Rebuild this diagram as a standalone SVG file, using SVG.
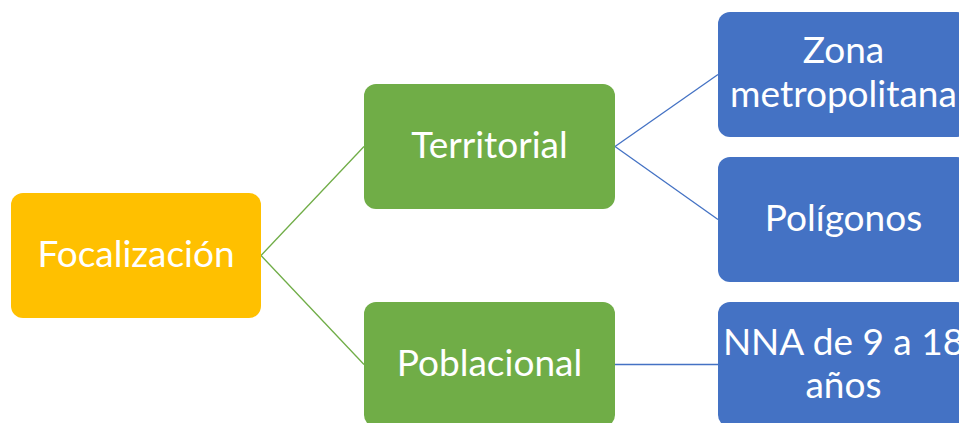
<svg xmlns="http://www.w3.org/2000/svg" width="959" height="423" viewBox="0 0 959 423">
<style>
.lbl{font-family:Lato,"Open Sans","Liberation Sans",sans-serif;font-size:37px;fill:#fff;text-anchor:middle}
.orange{fill:#FFC000}
.green{fill:#70AD47}
.blue{fill:#4472C4}
.cg{stroke:#70AD47;stroke-width:1.3;fill:none}
.cb{stroke:#4472C4;stroke-width:1.3;fill:none}
</style>
<rect width="959" height="423" fill="#fff"/>
<g id="connectors">
<line class="cg" x1="261" y1="255.5" x2="364" y2="146.5"/>
<line class="cg" x1="261" y1="255.5" x2="364" y2="364.5"/>
<line class="cb" x1="615" y1="146.5" x2="718" y2="74.5"/>
<line class="cb" x1="615" y1="146.5" x2="718" y2="219.5"/>
<line class="cb" x1="615" y1="364.5" x2="718" y2="364.5"/>
</g>
<g id="focalizacion">
<rect class="orange" x="11" y="193" width="250" height="125" rx="12"/>
<text class="lbl" x="136" y="267">Focalización</text>
</g>
<g id="territorial">
<rect class="green" x="364" y="84" width="251" height="125" rx="12"/>
<text class="lbl" x="489.5" y="158">Territorial</text>
</g>
<g id="poblacional">
<rect class="green" x="364" y="302" width="251" height="125" rx="12"/>
<text class="lbl" x="489.5" y="376">Poblacional</text>
</g>
<g id="zona">
<rect class="blue" x="718" y="12" width="251" height="125" rx="12"/>
<text class="lbl" x="843.5" y="63">Zona</text>
<text class="lbl" x="843.5" y="107">metropolitana</text>
</g>
<g id="poligonos">
<rect class="blue" x="718" y="157" width="251" height="125" rx="12"/>
<text class="lbl" x="843.5" y="231">Polígonos</text>
</g>
<g id="nna">
<rect class="blue" x="718" y="302" width="251" height="125" rx="12"/>
<text class="lbl" x="843.5" y="355">NNA de 9 a 18</text>
<text class="lbl" x="843.5" y="398">años</text>
</g>
</svg>
